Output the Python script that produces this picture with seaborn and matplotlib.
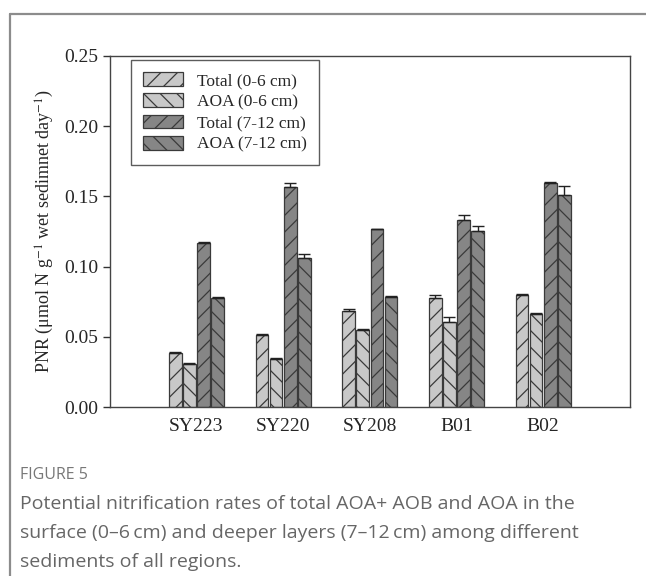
import matplotlib
matplotlib.use("Agg")
import matplotlib.pyplot as plt
import numpy as np
import pandas as pd
import seaborn as sns

# ---------------------------------------------------------------------------
# Data
# ---------------------------------------------------------------------------
SITES = ["SY223", "SY220", "SY208", "B01", "B02"]
GROUPS = ["Total (0-6 cm)", "AOA (0-6 cm)", "Total (7-12 cm)", "AOA (7-12 cm)"]

TOTAL_0_6 = [0.0385, 0.0515, 0.0685, 0.0775, 0.0798]
AOA_0_6 = [0.0305, 0.0345, 0.0545, 0.0605, 0.0662]
TOTAL_7_12 = [0.1165, 0.1565, 0.1265, 0.1335, 0.1598]
AOA_7_12 = [0.0775, 0.1062, 0.0785, 0.1250, 0.1512]

ERR_TOTAL_0_6 = [0.001, 0.0005, 0.001, 0.002, 0.001]
ERR_AOA_0_6 = [0.0005, 0.0005, 0.001, 0.0035, 0.0005]
ERR_TOTAL_7_12 = [0.001, 0.003, 0.0005, 0.003, 0.0005]
ERR_AOA_7_12 = [0.0005, 0.003, 0.0005, 0.004, 0.006]

LIGHT = "#c8c8c8"
DARK = "#868686"
COLORS = [LIGHT, LIGHT, DARK, DARK]
HATCHES = ["//", "\\\\", "//", "\\\\"]

# ---------------------------------------------------------------------------
# Build long table
# ---------------------------------------------------------------------------
values = [TOTAL_0_6, AOA_0_6, TOTAL_7_12, AOA_7_12]
errors = [ERR_TOTAL_0_6, ERR_AOA_0_6, ERR_TOTAL_7_12, ERR_AOA_7_12]
rows = []
for g, vals in zip(GROUPS, values):
    for s, v in zip(SITES, vals):
        rows.append({"site": s, "group": g, "pnr": v})
df = pd.DataFrame(rows)

sns.set_style("ticks")
plt.rcParams["font.family"] = ["Liberation Serif", "DejaVu Serif"]
plt.rcParams["mathtext.fontset"] = "stix"
plt.rcParams["hatch.color"] = "#3a3a3a"
plt.rcParams["hatch.linewidth"] = 0.9

fig = plt.figure(figsize=(6.46, 5.76), dpi=100)
ax = fig.add_axes([0.170, 0.2934, 0.805, 0.6094])

sns.barplot(
    data=df, x="site", y="pnr", hue="group", order=SITES, hue_order=GROUPS,
    palette=COLORS, width=0.65, gap=0.1, edgecolor="#3a3a3a", linewidth=0.9,
    errorbar=None, legend=True, ax=ax,
)

# hatches + one-sided error bars
for cont, hatch, errs in zip(ax.containers, HATCHES, errors):
    xs, ys = [], []
    for bar in cont:
        bar.set_hatch(hatch)
        xs.append(bar.get_x() + bar.get_width() / 2)
        ys.append(bar.get_height())
    ax.errorbar(xs, ys, yerr=[np.zeros(len(errs)), errs], fmt="none",
                ecolor="#222222", elinewidth=1.0, capsize=4, capthick=1.0)

ax.set_xlim(-1, 5)
ax.set_ylim(0, 0.25)
ax.set_yticks([0.0, 0.05, 0.10, 0.15, 0.20, 0.25])
ax.set_yticklabels(["0.00", "0.05", "0.10", "0.15", "0.20", "0.25"])
ax.tick_params(axis="y", labelsize=14, length=5, width=1, color="#333333", direction="out")
ax.tick_params(axis="x", labelsize=14, length=0, pad=8)
ax.set_xlabel("")
ax.set_ylabel("PNR (μmol N g$^{\\mathrm{-1}}$ wet sedimnet day$^{\\mathrm{-1}}$)",
              fontsize=13, labelpad=6)
for sp in ax.spines.values():
    sp.set_visible(True)
    sp.set_color("#444444")
    sp.set_linewidth(1.0)

leg = ax.legend(loc="upper left", bbox_to_anchor=(0.04, 0.989), borderaxespad=0,
                fontsize=12.5, frameon=True, fancybox=False, edgecolor="#333333",
                handlelength=2.3, handleheight=0.85, borderpad=0.7,
                labelspacing=0.25, handletextpad=0.8)
leg.get_frame().set_linewidth(1.0)
for h, hatch in zip(leg.legend_handles, HATCHES):
    h.set_hatch(hatch)

# card frame and caption
fig.add_artist(plt.Line2D([0.0155, 0.0155], [0.0, 0.976], transform=fig.transFigure,
                          color="#8c8c8c", linewidth=1.6))
fig.add_artist(plt.Line2D([0.0155, 1.0], [0.976, 0.976], transform=fig.transFigure,
                          color="#8c8c8c", linewidth=1.6))

cap_font = ["Open Sans", "DejaVu Sans"]
fig.text(0.031, 1 - 475 / 576, "FIGURE 5", fontsize=11.5, color="#777777",
         family=cap_font, va="center", ha="left")
caption = ["Potential nitrification rates of total AOA+ AOB and AOA in the",
           "surface (0\u20136\u2009cm) and deeper layers (7\u201312\u2009cm) among different",
           "sediments of all regions."]
for i, line in enumerate(caption):
    fig.text(0.031, 1 - (504 + 29 * i) / 576, line, fontsize=14, color="#666666",
             family=cap_font, va="center", ha="left")

fig.savefig("out.png", dpi=100)
